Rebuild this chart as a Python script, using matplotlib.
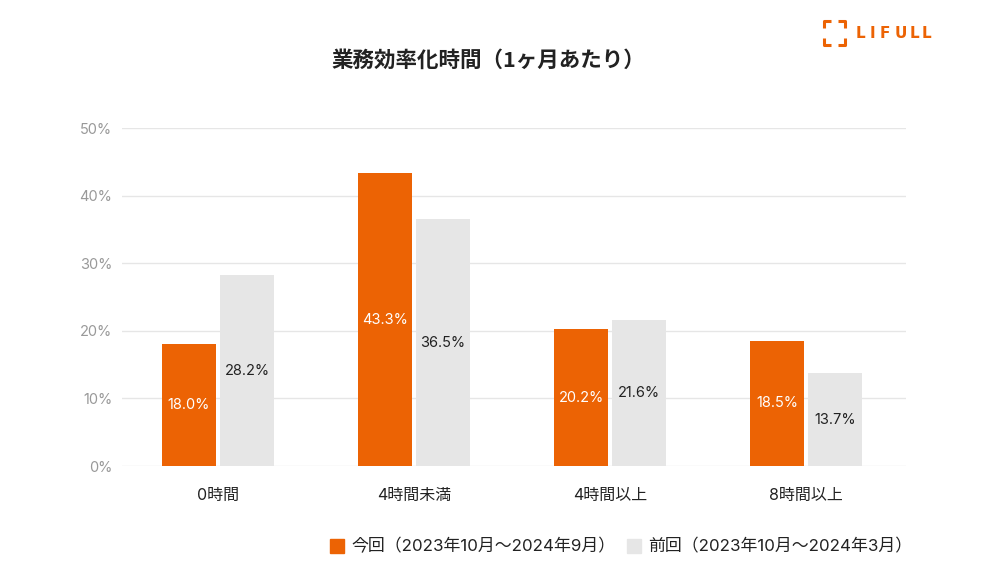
import matplotlib
matplotlib.use("Agg")
import matplotlib.pyplot as plt
import numpy as np

plt.rcParams['font.family'] = ['Noto Sans CJK JP', 'DejaVu Sans']
NUMF = ['Inter', 'Noto Sans CJK JP']

title = "業務効率化時間（1ヶ月あたり）"
categories = ["0時間", "4時間未満", "4時間以上", "8時間以上"]
current = [18.0, 43.3, 20.2, 18.5]
previous = [28.2, 36.5, 21.6, 13.7]
series_names = ["今回（2023年10月～2024年9月）", "前回（2023年10月～2024年3月）"]
yticks = [0, 10, 20, 30, 40, 50]

ORANGE = "#EC6304"
GRAY = "#E6E6E6"

W, H = 1000, 562
fig = plt.figure(figsize=(10, 5.62), dpi=100)
ax = fig.add_axes([122 / W, 1 - 466 / H, 784 / W, (466 - 128) / H])

x = np.arange(len(categories))
bw = 0.276
off = 0.148
b1 = ax.bar(x - off, current, bw, color=ORANGE, zorder=3)
b2 = ax.bar(x + off, previous, bw, color=GRAY, zorder=3)

for rect, v in zip(b1, current):
    ax.text(rect.get_x() + rect.get_width() / 2, v / 2, f"{v:.1f}%",
            ha='center', va='center', color='white', fontsize=10.5, zorder=4, family=NUMF)
for rect, v in zip(b2, previous):
    ax.text(rect.get_x() + rect.get_width() / 2, v / 2, f"{v:.1f}%",
            ha='center', va='center', color='#222222', fontsize=10.5, zorder=4, family=NUMF)

ax.set_xlim(-0.49, len(categories) - 0.49)
ax.set_ylim(0, 50)
ax.set_yticks(yticks)
ax.set_yticklabels([f"{t}%" for t in yticks], color='#999999', fontsize=10.5, family=NUMF)
ax.set_xticks(x)
ax.set_xticklabels(categories, fontsize=11.5, color='#222222', family=NUMF)
ax.tick_params(axis='both', length=0)
ax.tick_params(axis='y', pad=7)
ax.tick_params(axis='x', pad=16)
ax.grid(axis='y', color='#E6E6E6', linewidth=1, zorder=0)
for s in ax.spines.values():
    s.set_visible(False)

fig.text(0.488, 1 - 60 / H, title, ha='center', va='center',
         fontsize=15.5, fontweight='bold', color='#222222')

# legend
sq = 14
for xs, name, col in [(330, series_names[0], ORANGE), (627, series_names[1], GRAY)]:
    fig.patches.append(plt.Rectangle((xs / W, 1 - 553 / H), sq / W, sq / H,
                                     transform=fig.transFigure, color=col, figure=fig))
    fig.text((xs + 21) / W, 1 - 546 / H, name, ha='left', va='center',
             fontsize=12.2, color='#222222', family=NUMF)

# logo
lw = 2.2
def fl(xs, ys):
    fig.add_artist(plt.Line2D([v / W for v in xs], [1 - v / H for v in ys],
                              color=ORANGE, linewidth=lw, solid_capstyle='butt'))
fl([831, 824, 824], [21, 21, 28])
fl([838, 845, 845], [21, 21, 28])
fl([824, 824, 831], [38, 45, 45])
fl([845, 845, 838], [38, 45, 45])
for ch, xs in zip("LIFULL", [856, 870, 880, 895, 910, 922]):
    fig.text(xs / W, 1 - 34 / H, ch, ha='left', va='center',
             fontsize=11, fontweight='bold', color=ORANGE, family='DejaVu Sans')

fig.savefig("out.png", dpi=100, facecolor='white')
